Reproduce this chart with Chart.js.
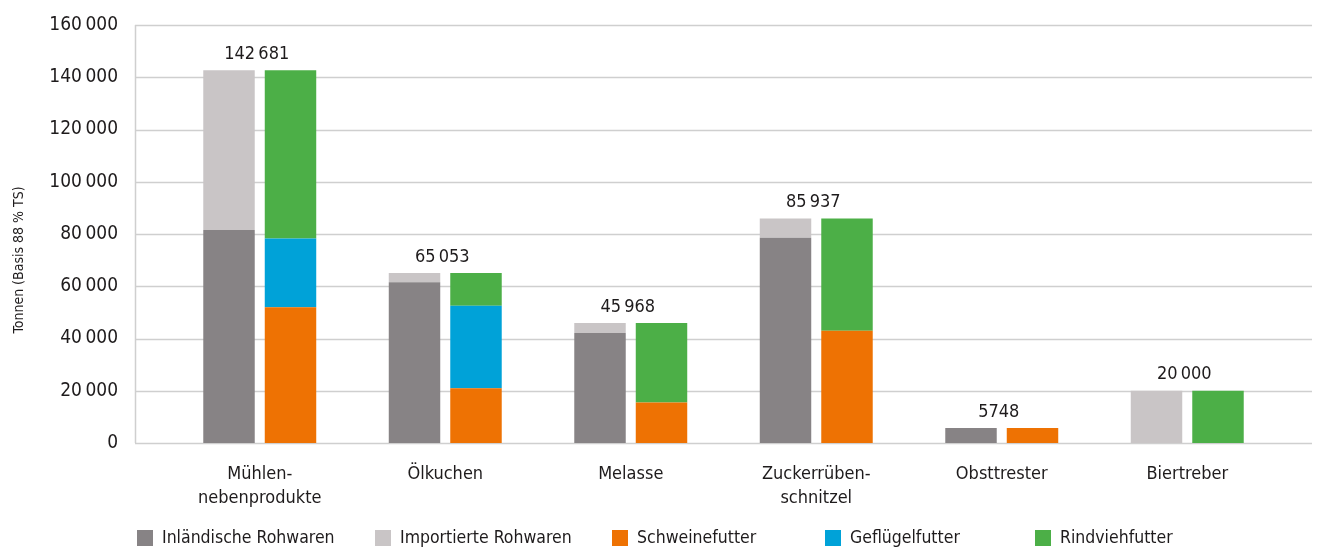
<!DOCTYPE html>
<html>
<head>
<meta charset="utf-8">
<script src="https://cdn.jsdelivr.net/npm/chart.js@4.4.1/dist/chart.umd.min.js"></script>
<style>
html,body{margin:0;padding:0;background:#fff;}
#wrap{width:1317px;height:550px;position:relative;}
</style>
</head>
<body>
<div id="wrap"><canvas id="c" width="1317" height="550"></canvas></div>
<script>
const categories = [['Mühlen-','nebenprodukte'], 'Ölkuchen', 'Melasse', ['Zuckerrüben-','schnitzel'], 'Obsttrester', 'Biertreber'];
const inlaendisch = [81500, 61500, 42100, 78600, 5748, null];
const importiert  = [61181, 3553, 3868, 7337, null, 20000];
const schwein     = [52000, 21000, 15500, 43000, 5748, null];
const gefluegel   = [26300, 31500, null, null, null, null];
const rindvieh    = [64381, 12553, 30468, 42937, null, 20000];
const totals      = [142681, 65053, 45968, 85937, 5748, 20000];
const yTicks      = [0, 20000, 40000, 60000, 80000, 100000, 120000, 140000, 160000];
const yTitle      = 'Tonnen (Basis 88 % TS)';

const FONT = "'Liberation Sans Narrow', 'DejaVu Sans Condensed', 'Arial Narrow', sans-serif";
const TXT = '#1e1b1c';

function fmt(v){
  if (v < 10000) return String(v);
  return String(v).replace(/\B(?=(\d{3})+(?!\d))/g, '\u2009');
}

const gridPlugin = {
  id: 'extGrid',
  beforeDatasetsDraw(chart){
    const {ctx, chartArea:a, scales:{y}} = chart;
    const ext = 32;
    ctx.save();
    ctx.strokeStyle = '#cfcfcf';
    ctx.lineWidth = 1.5;
    y.ticks.forEach(t => {
      const py = Math.round(y.getPixelForValue(t.value)) + 0.5;
      ctx.beginPath();
      ctx.moveTo(a.left - ext, py);
      ctx.lineTo(a.right + ext, py);
      ctx.stroke();
    });
    ctx.beginPath();
    const px = a.left - ext + 0.5;
    ctx.moveTo(px, y.getPixelForValue(y.max));
    ctx.lineTo(px, y.getPixelForValue(0));
    ctx.stroke();
    // y-axis title
    ctx.fillStyle = TXT;
    ctx.font = '14px ' + FONT;
    ctx.textAlign = 'center';
    ctx.textBaseline = 'middle';
    ctx.translate(19, (a.top + a.bottom) / 2 + 26);
    ctx.rotate(-Math.PI / 2);
    ctx.fillText(yTitle, 0, 0);
    ctx.restore();
  }
};

const totalsPlugin = {
  id: 'totals',
  afterDatasetsDraw(chart){
    const {ctx, scales:{x, y}} = chart;
    ctx.save();
    ctx.fillStyle = TXT;
    ctx.font = '18px ' + FONT;
    ctx.textAlign = 'center';
    ctx.textBaseline = 'bottom';
    totals.forEach((v, i) => {
      ctx.fillText(fmt(v), x.getPixelForValue(i) - 3, y.getPixelForValue(v) - 7);
    });
    ctx.restore();
  }
};

const legendX = [137, 375, 612, 825, 1035];
const legendPlugin = {
  id: 'customLegend',
  afterDraw(chart){
    const {ctx} = chart;
    const yMid = 538;
    ctx.save();
    ctx.font = '17.5px ' + FONT;
    ctx.textAlign = 'left';
    ctx.textBaseline = 'middle';
    chart.data.datasets.forEach((ds, i) => {
      const bx = legendX[i];
      ctx.fillStyle = ds.backgroundColor;
      ctx.fillRect(bx, yMid - 8, 16, 16);
      ctx.fillStyle = TXT;
      ctx.fillText(ds.label, bx + 25, yMid);
    });
    ctx.restore();
  }
};

const mk = (label, data, color, stack) => ({
  label, data, backgroundColor: color, stack,
  borderWidth: 0,
  categoryPercentage: 0.663, barPercentage: 0.837
});

new Chart(document.getElementById('c'), {
  type: 'bar',
  data: {
    labels: categories,
    datasets: [
      mk('Inländische Rohwaren', inlaendisch, '#878385', 'A'),
      mk('Importierte Rohwaren', importiert, '#c9c5c6', 'A'),
      mk('Schweinefutter', schwein, '#ee7203', 'B'),
      mk('Geflügelfutter', gefluegel, '#00a2d8', 'B'),
      mk('Rindviehfutter', rindvieh, '#4caf47', 'B')
    ]
  },
  options: {
    responsive: false,
    animation: false,
    events: [],
    layout: { padding: { top: 25, right: 37, bottom: 0, left: 0 } },
    plugins: {
      legend: { display: false },
      tooltip: { enabled: false }
    },
    scales: {
      x: {
        stacked: true,
        grid: { display: false },
        border: { display: false },
        ticks: { color: TXT, font: { family: FONT, size: 18, lineHeight: 1.3 }, padding: 12, maxRotation: 0, autoSkip: false },
        afterFit(s){ s.height = 107; }
      },
      y: {
        stacked: true,
        min: 0, max: 160000,
        afterBuildTicks(s){ s.ticks = yTicks.map(v => ({value: v})); },
        grid: { display: false, drawTicks: false },
        border: { display: false },
        ticks: { color: TXT, font: { family: FONT, size: 19 }, padding: 49, callback: v => fmt(v) },
        afterFit(s){ s.width = 167; s.paddingTop = 10; s.paddingBottom = 10; }
      }
    }
  },
  plugins: [gridPlugin, totalsPlugin, legendPlugin]
});
</script>
</body>
</html>
